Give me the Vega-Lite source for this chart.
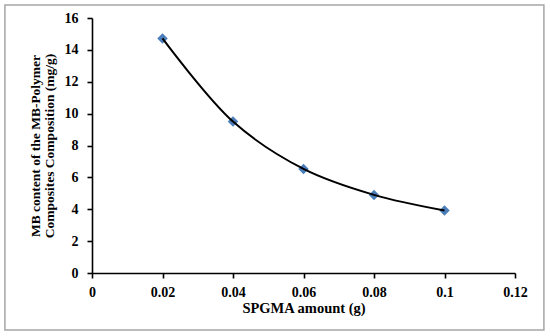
{
  "$schema": "https://vega.github.io/schema/vega-lite/v6.json",
  "autosize": "none",
  "width": 423,
  "height": 255,
  "padding": {"left": 92, "top": 18, "right": 35, "bottom": 63},
  "background": "white",
  "config": {
    "view": {"stroke": null},
    "font": "Liberation Serif"
  },
  "layer": [
    {
      "data": {"values": [{"x1": -0.0247, "x2": 0.1282, "y1": -3.58, "y2": 16.82}]},
      "mark": {"type": "rect", "fill": null, "stroke": "#a6a6a6", "strokeWidth": 1.5},
      "encoding": {
        "x": {
          "field": "x1", "type": "quantitative",
          "scale": {"domain": [0, 0.12], "nice": false, "zero": false},
          "axis": {"title": "SPGMA amount (g)", "values": [0, 0.02, 0.04, 0.06, 0.08, 0.1, 0.12], "tickCount": 20, "labelPadding": 7, "titlePadding": 2, "labelFlush": false, "labelOverlap": false, "labelExpr": "datum.value == 0 ? '0' : format(datum.value, '.2~f')",
            "labelFont": "Liberation Serif", "titleFont": "Liberation Serif", "labelFontWeight": "bold", "titleFontWeight": "bold", "labelFontSize": 14, "titleFontSize": 14.5, "labelColor": "black", "titleColor": "black", "domainColor": "black", "domainWidth": 1.6, "ticks": true, "tickColor": "black", "tickWidth": 1.6, "tickSize": 5, "grid": false}
        },
        "x2": {"field": "x2"},
        "y": {
          "field": "y1", "type": "quantitative",
          "scale": {"domain": [0, 16], "nice": false, "zero": false},
          "axis": {"title": ["MB content of the MB-Polymer", "Composites Composition (mg/g)"], "values": [0, 2, 4, 6, 8, 10, 12, 14, 16], "tickCount": 20, "labelPadding": 9, "titlePadding": 8, "titleLineHeight": 14, "labelFlush": false, "labelOverlap": false,
            "labelFont": "Liberation Serif", "titleFont": "Liberation Serif", "labelFontWeight": "bold", "titleFontWeight": "bold", "labelFontSize": 14, "titleFontSize": 13.5, "labelColor": "black", "titleColor": "black", "domainColor": "black", "domainWidth": 1.6, "ticks": true, "tickColor": "black", "tickWidth": 1.6, "tickSize": 5, "grid": false}
        },
        "y2": {"field": "y2"}
      }
    },
    {
      "data": {"values": [
        {"amount": 0.02, "content": 14.72},
        {"amount": 0.04, "content": 9.5},
        {"amount": 0.06, "content": 6.53},
        {"amount": 0.08, "content": 4.9},
        {"amount": 0.1, "content": 3.92}
      ]},
      "layer": [
        {
          "mark": {"type": "point", "shape": "diamond", "filled": true, "color": "#4a7ebb", "size": 110, "opacity": 1},
          "encoding": {
            "x": {"field": "amount", "type": "quantitative"},
            "y": {"field": "content", "type": "quantitative"}
          }
        },
        {
          "mark": {"type": "line", "color": "black", "strokeWidth": 2, "interpolate": "catmull-rom"},
          "encoding": {
            "x": {"field": "amount", "type": "quantitative"},
            "y": {"field": "content", "type": "quantitative"}
          }
        }
      ]
    }
  ]
}
